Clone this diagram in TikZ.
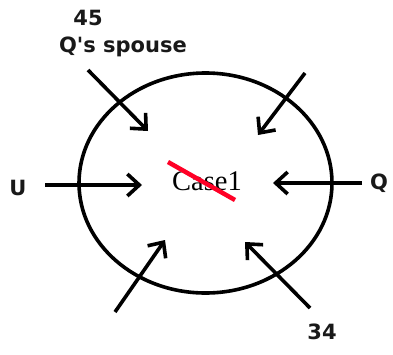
\documentclass[tikz,border=0pt]{standalone}
\usepackage{fontspec}
\setmainfont{Liberation Serif}
\newfontfamily\lblfont{DejaVu Sans}
\usetikzlibrary{arrows.meta,shapes.geometric}
\begin{document}
\begin{tikzpicture}[x=1pt,y=-1pt,
  arr/.style={line width=3.6pt,-{Straight Barb[length=12pt,width=22pt,line width=3.6pt]}},
  lbl/.style={font=\lblfont\bfseries\fontsize{21}{24}\selectfont,inner sep=0pt,text=black!90}]
\useasboundingbox (0,0) rectangle (393,354);
\fill[white] (0,0) rectangle (393,354);
\node[draw,line width=3.6pt,ellipse,minimum width=253pt,minimum height=220pt,inner sep=0pt] (E) at (205.5,183) {};
\node[font=\fontsize{28.5}{30}\selectfont,inner sep=0pt,text=black] (C) at (207,181) {Case1};
\coordinate (r1) at (168,162); \coordinate (r2) at (235,200);
\draw[red!85!magenta,line width=4.5pt] (r1) -- (r2);
\node[lbl] (n45) at (88,18) {45};
\node[lbl] (qs) at (123,47) {Q's spouse};
\node[lbl] (U) at (18,188) {U};
\node[lbl] (Q) at (379,183) {Q};
\node[lbl] (n34) at (322,332) {34};
\coordinate (a1s) at (88,70); \coordinate (a1e) at (148,131);
\coordinate (a2s) at (305,73); \coordinate (a2e) at (258,135);
\coordinate (a3s) at (45,185); \coordinate (a3e) at (142,185);
\coordinate (a4s) at (362,183); \coordinate (a4e) at (273,183);
\coordinate (a5s) at (115,312); \coordinate (a5e) at (165,240);
\coordinate (a6s) at (310,308); \coordinate (a6e) at (245,242);
\draw[arr] (a1s) -- (a1e);
\draw[arr] (a2s) -- (a2e);
\draw[arr] (a3s) -- (a3e);
\draw[arr] (a4s) -- (a4e);
\draw[arr] (a5s) -- (a5e);
\draw[arr] (a6s) -- (a6e);
\end{tikzpicture}
\end{document}
